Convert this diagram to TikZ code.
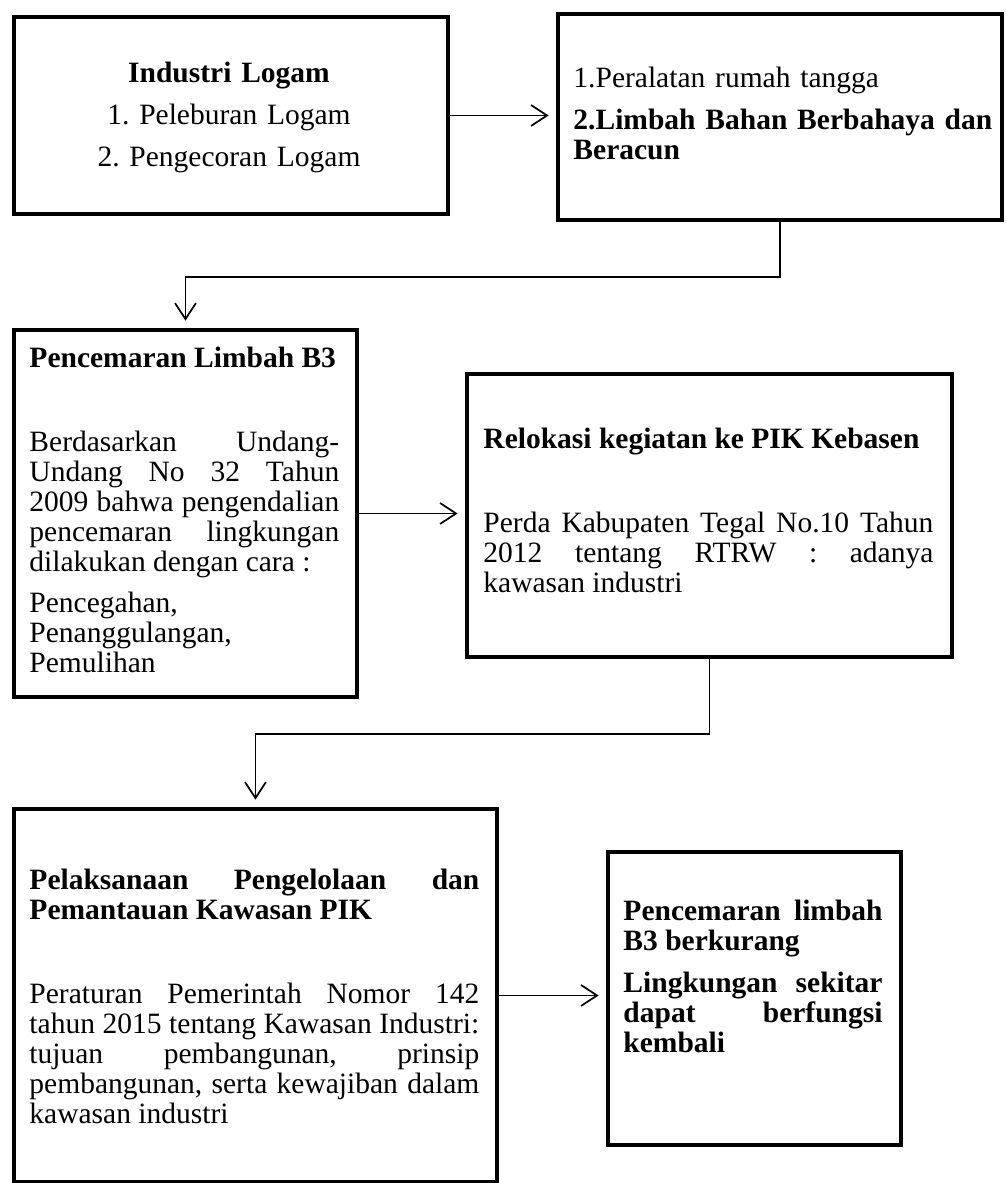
\documentclass[tikz,border=0pt]{standalone}
\usepackage{fontspec}
\setmainfont{Liberation Serif}
\usetikzlibrary{arrows.meta}
\frenchspacing

\tikzset{
  box/.style={draw, line width=1.6pt, anchor=north west, inner sep=0pt},
  txt/.style={anchor=north west, inner sep=0pt, align=justify,
    font=\fontsize{12}{12.2}\selectfont,
    execute at begin node={\setlength{\parskip}{4.8pt}\frenchspacing}},
  link/.style={line width=0.55pt, -{Straight Barb[length=6.5pt,width=8.5pt,line width=0.7pt]}, shorten >=3pt}
}

\begin{document}
\begin{tikzpicture}[x=0.4068pt, y=-0.4068pt]
\useasboundingbox (0,0) rectangle (1005,1183);

% the six boxes
\node[box, minimum width=434*0.4068pt, minimum height=197*0.4068pt] (logam) at (12,15) {};
\node[box, minimum width=444*0.4068pt, minimum height=206*0.4068pt] (limbah) at (556,12) {};
\node[box, minimum width=343*0.4068pt, minimum height=367*0.4068pt] (cemar) at (12,328) {};
\node[box, minimum width=485*0.4068pt, minimum height=283*0.4068pt] (relok) at (465,372) {};
\node[box, minimum width=483*0.4068pt, minimum height=373*0.4068pt] (kelola) at (12,807) {};
\node[box, minimum width=293*0.4068pt, minimum height=293*0.4068pt] (hasil) at (606,850) {};

% texts inside the boxes
\node[txt, anchor=north, text width=176.5pt, align=center] (logamT) at (229,61)
  {\strut\textbf{Industri Logam}\par 1. Peleburan Logam\par 2. Pengecoran Logam};
\node[txt, text width=171pt, align=left] (limbahT) at (573,66)
  {\strut 1.Peralatan rumah tangga\par \textbf{2.Limbah Bahan Berbahaya dan\newline Beracun}};
\node[txt, text width=126pt] (cemarT) at (29,346)
  {\strut\textbf{Pencemaran Limbah B3}\par\strut\par
   Berdasarkan Undang-\linebreak Undang No 32 Tahun\linebreak 2009 bahwa pengendalian\linebreak
   pencemaran lingkungan\linebreak dilakukan dengan cara :\par
   Pencegahan,\newline Penanggulangan,\newline Pemulihan};
\node[txt, text width=183pt] (relokT) at (483,427)
  {\strut\textbf{Relokasi kegiatan ke PIK Kebasen}\par\strut\par
   Perda Kabupaten Tegal No.10 Tahun\linebreak 2012 tentang RTRW : adanya\linebreak kawasan industri};
\node[txt, text width=183pt] (kelolaT) at (29,868)
  {\strut\textbf{Pelaksanaan Pengelolaan dan\linebreak Pemantauan Kawasan PIK}\par\strut\par
   Peraturan Pemerintah Nomor 142\linebreak tahun 2015 tentang Kawasan Industri:\linebreak
   tujuan pembangunan, prinsip\linebreak pembangunan, serta kewajiban dalam\linebreak kawasan industri};
\node[txt, text width=105.4pt, font=\fontsize{12}{12.2}\selectfont\bfseries] (hasilT) at (623,899)
  {\strut Pencemaran limbah\linebreak B3 berkurang\par
   Lingkungan sekitar\linebreak dapat berfungsi\linebreak kembali};

% connectors
\draw[link] (logam.east) -- (logam.east -| limbah.west);
\draw[link] (limbah.south) -- ++(0,55) -| (cemar.north);
\draw[link] (cemar.east) -- (cemar.east -| relok.west);
\draw[link] (relok.south) -- ++(0,75) -| (kelola.north);
\draw[link] (kelola.east) -- (kelola.east -| hasil.west);
\end{tikzpicture}
\end{document}
